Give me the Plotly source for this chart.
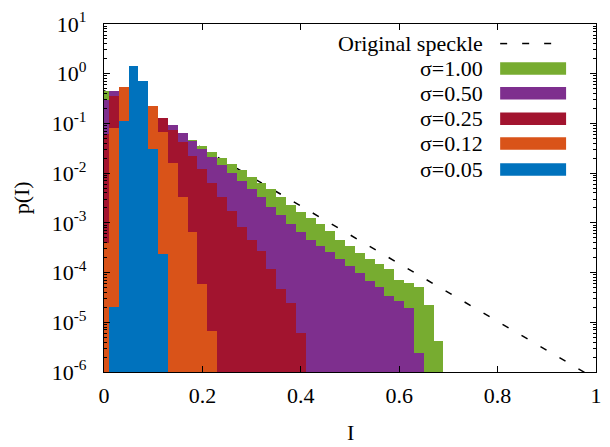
import plotly.graph_objects as go

# ---------------- data ----------------
bin_width = 0.02
# histogram values, bin k centred at I = 0.02*k
p_sigma_100 = [0.445, 0.425, 0.322, 0.244, 0.185, 0.141, 0.107, 0.0809, 0.0614, 0.0466,
               0.0353, 0.0268, 0.0203, 0.0154, 0.0117, 8.47e-3, 6.43e-3, 4.88e-3, 3.37e-3, 2.33e-3,
               1.69e-3, 1.28e-3, 9.29e-4, 6.73e-4, 4.45e-4, 3.37e-4, 2.44e-4, 1.85e-4, 1.47e-4, 1.17e-4,
               7.05e-5, 6.14e-5, 5.11e-5, 2.23e-5, 4.25e-6]
p_sigma_050 = [0.294, 0.445, 0.370, 0.294, 0.233, 0.177, 0.122, 0.0929, 0.0643, 0.0445,
               0.0308, 0.0213, 0.0147, 0.0102, 7.05e-3, 4.88e-3, 3.37e-3, 2.13e-3, 1.47e-3, 9.29e-4,
               6.43e-4, 4.45e-4, 3.37e-4, 2.56e-4, 1.85e-4, 1.34e-4, 9.73e-5, 6.73e-5, 5.11e-5, 3.37e-5,
               2.68e-5, 1.94e-5, 2.44e-6]
p_sigma_025 = [0.0622, 0.353, 0.337, 0.281, 0.223, 0.169, 0.128, 0.0738, 0.0425, 0.0223,
               0.01225, 6.43e-3, 3.37e-3, 1.77e-3, 8.09e-4, 4.45e-4, 2.68e-4, 1.17e-4, 4.66e-5, 2.44e-5,
               6.14e-6]
p_sigma_012 = [3.93e-4, 0.082, 0.535, 0.445, 0.322, 0.223, 0.0673, 0.0159, 3.37e-3, 6.52e-4,
               5.86e-5, 6.73e-6]
p_sigma_005 = [None, 2.06e-5, 0.112, 1.41, 0.705, 0.0303, 2.33e-4]

series_labels = ["σ=1.00", "σ=0.50", "σ=0.25", "σ=0.12", "σ=0.05"]
series_values = [p_sigma_100, p_sigma_050, p_sigma_025, p_sigma_012, p_sigma_005]
series_colors = ["#77AC30", "#7E2F8E", "#A2142F", "#D95319", "#0072BD"]

speckle_I = [0.0, 1.0]
speckle_p = [0.458, 7.2e-7]

x_tick_vals = [0, 0.2, 0.4, 0.6, 0.8, 1]
x_tick_text = ["0", "0.2", "0.4", "0.6", "0.8", "1"]
y_exponents = [-6, -5, -4, -3, -2, -1, 0, 1]

# ---------------- figure ----------------
FONT = "Liberation Serif, Times New Roman, serif"
fig = go.Figure()

# dashed reference line on the base axes (drawn underneath the bars)
fig.add_trace(go.Scatter(
    x=speckle_I, y=speckle_p, mode="lines", name="Original speckle",
    line=dict(color="black", width=1.5, dash="7px,15px"), showlegend=False,
    xaxis="x", yaxis="y"))

# histograms on an overlaid (identical) pair of axes so they cover the line
for lab, vals, col in zip(series_labels, series_values, series_colors):
    xs = [round(bin_width * k, 4) for k in range(len(vals))]
    fig.add_trace(go.Bar(
        x=xs, y=vals, width=bin_width, name=lab,
        marker=dict(color=col, line=dict(width=0)), showlegend=False,
        xaxis="x2", yaxis="y2"))

y_tick_vals = [10.0 ** e for e in y_exponents]
y_tick_text = ["10<sup>%d</sup>" % e for e in y_exponents]
minor_vals = [m * 10.0 ** e for e in y_exponents[:-1] for m in range(2, 10)]

fig.update_layout(
    width=610, height=447,
    margin=dict(l=104, r=8, t=22, b=75),
    paper_bgcolor="white", plot_bgcolor="white",
    barmode="overlay", bargap=0,
    font=dict(family=FONT, size=22, color="black"),
    showlegend=False,
    xaxis=dict(
        range=[0, 1], tickvals=x_tick_vals, ticktext=x_tick_text,
        ticks="inside", ticklen=6, tickwidth=1, tickcolor="black",
        showline=True, linecolor="black", linewidth=1.2, mirror="allticks",
        showgrid=False, zeroline=False, ticklabelstandoff=3,
        tickfont=dict(family=FONT, size=22)),
    yaxis=dict(
        type="log", range=[-6, 1], tickvals=y_tick_vals, ticktext=y_tick_text,
        ticks="inside", ticklen=6, tickwidth=1, tickcolor="black",
        minor=dict(tickvals=minor_vals, ticks="inside", ticklen=3, tickcolor="black"),
        showline=True, linecolor="black", linewidth=1.2, mirror="allticks",
        showgrid=False, zeroline=False, ticklabelstandoff=12,
        tickfont=dict(family=FONT, size=22)),
    xaxis2=dict(range=[0, 1], overlaying="x", visible=False, showgrid=False, zeroline=False),
    yaxis2=dict(type="log", range=[-6, 1], overlaying="y", visible=False,
                showgrid=False, zeroline=False),
)

# axis titles
fig.add_annotation(text="I", xref="paper", yref="paper", x=0.5, y=-0.174,
                   xanchor="center", yanchor="middle", showarrow=False,
                   font=dict(family=FONT, size=22))
fig.add_annotation(text="p(I)", xref="paper", yref="paper", x=-0.168, y=0.5,
                   xanchor="center", yanchor="middle", showarrow=False, textangle=-90,
                   font=dict(family=FONT, size=22))

# key (gnuplot style: right-justified text, sample on the right)
key_text_x = 0.7737
key_x0, key_x1 = 0.8052, 0.9392
key_rows = [0.9437, 0.8723, 0.8009, 0.7277, 0.6563, 0.582]
key_labels = ["Original speckle"] + series_labels
for i, (ky, lab) in enumerate(zip(key_rows, key_labels)):
    fig.add_annotation(text=lab, xref="paper", yref="paper", x=key_text_x, y=ky,
                       xanchor="right", yanchor="middle", showarrow=False,
                       font=dict(family=FONT, size=22))
    if i == 0:
        fig.add_shape(type="line", xref="paper", yref="paper",
                      x0=key_x0, x1=key_x1, y0=ky, y1=ky,
                      line=dict(color="black", width=1.5, dash="7px,15px"))
    else:
        fig.add_shape(type="rect", xref="paper", yref="paper",
                      x0=key_x0, x1=key_x1, y0=ky - 0.018, y1=ky + 0.018,
                      fillcolor=series_colors[i - 1], line=dict(width=0))

fig.write_html("out.html", config={"displayModeBar": False},
               post_script="document.body.style.margin='0';")
